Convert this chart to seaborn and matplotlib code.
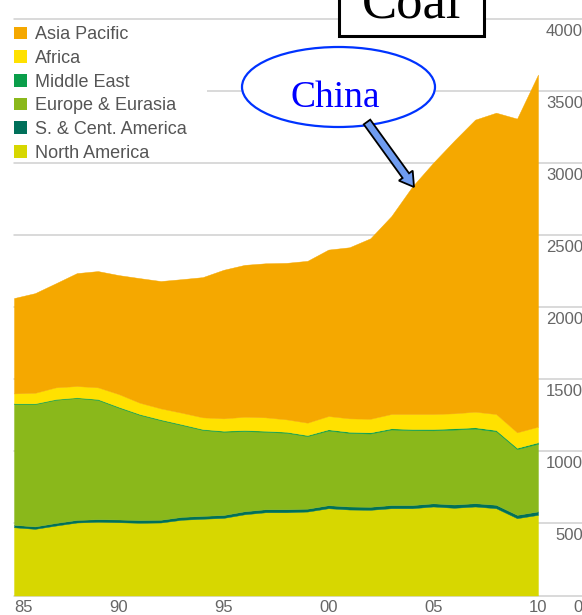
import matplotlib
matplotlib.use("Agg")
import matplotlib.pyplot as plt
import seaborn as sns
from matplotlib.patches import Rectangle, Ellipse, FancyArrow, Patch

# Coal consumption by region, million tonnes oil equivalent
years = list(range(1985, 2011))
north_america = [473, 462, 485, 506, 511, 508, 504, 506, 525, 532, 538, 563, 577,
                 577, 582, 605, 596, 594, 605, 605, 617, 608, 617, 605, 536, 559]
s_cent_america = [17, 17, 18, 18, 18, 19, 19, 19, 20, 20, 20, 21, 21,
                  21, 20, 21, 21, 21, 22, 22, 22, 23, 23, 24, 23, 24]
europe_eurasia = [837, 848, 854, 845, 827, 775, 729, 690, 637, 596, 577, 556, 537,
                  530, 503, 518, 510, 508, 524, 519, 506, 519, 517, 509, 456, 469]
middle_east = [5, 5, 5, 5, 6, 6, 6, 6, 6, 6, 7, 7, 7,
               7, 7, 8, 8, 8, 8, 8, 9, 9, 9, 9, 9, 10]
africa = [69, 73, 81, 78, 81, 88, 78, 76, 79, 81, 86, 92, 93,
          86, 86, 92, 93, 94, 99, 104, 104, 104, 108, 111, 107, 108]
asia_pacific = [661, 691, 722, 783, 806, 825, 864, 883, 926, 972, 1030, 1053, 1068,
                1085, 1122, 1154, 1186, 1251, 1372, 1577, 1742, 1890, 2025, 2089, 2175, 2441]

regions = ["North America", "S. & Cent. America", "Europe & Eurasia",
           "Middle East", "Africa", "Asia Pacific"]
colors = ["#D7D700", "#00705A", "#8AB81B", "#0A9E4A", "#FFE100", "#F5A800"]

x_ticks = [1985, 1990, 1995, 2000, 2005, 2010]
x_labels = ["85", "90", "95", "00", "05", "10"]
y_ticks = [0, 500, 1000, 1500, 2000, 2500, 3000, 3500, 4000]

sns.set_theme(style="white")
plt.rcParams["font.family"] = ["Liberation Sans", "DejaVu Sans"]

W, H = 582, 615
fig = plt.figure(figsize=(W / 100, H / 100), dpi=100)
left_px, right_px, top_px, bottom_px = 14, 538, 18.5, 595.5
ax = fig.add_axes([left_px / W, (H - bottom_px) / H,
                   (right_px - left_px) / W, (bottom_px - top_px) / H])

ax.stackplot(years, north_america, s_cent_america, europe_eurasia,
             middle_east, africa, asia_pacific,
             colors=colors, labels=regions, linewidth=0.3,
             edgecolor="face", zorder=2)

ax.set_xlim(1985, 2010)
ax.set_ylim(0, 4000)
sns.despine(ax=ax, left=True, bottom=True, right=True, top=True)

# Horizontal rules run past the plot to the right, under the value labels
x_end = (W + 1 - left_px) / (right_px - left_px)
for v in y_ticks:
    ax.plot([0, x_end], [v, v], transform=ax.get_yaxis_transform(),
            color="#cfcfcf", lw=1.1, clip_on=False, zorder=0.5)
    ax.annotate(str(v), xy=(x_end, v), xycoords=("axes fraction", "data"),
                xytext=(0, -5), textcoords="offset pixels",
                ha="right", va="top", fontsize=12, color="#666666",
                annotation_clip=False)

ax.set_yticks([])
ax.set_xticks(x_ticks)
ax.set_xticklabels(x_labels, fontsize=12, color="#666666")
ax.get_xticklabels()[0].set_horizontalalignment("left")
ax.tick_params(axis="x", length=0, pad=3)

# Figure-inch coordinates for the legend panel, title box and callout
T = fig.dpi_scale_trans


def pt(px, py):
    return px / 100, (H - py) / 100


# White panel behind the legend hides the rule it sits on
fig.add_artist(Rectangle(pt(13, 158), 194 / 100, 134 / 100, transform=T,
                         facecolor="white", edgecolor="none", zorder=1))

# Legend, top region first
handles = [Patch(facecolor=c, edgecolor="none") for c in colors][::-1]
fig.legend(handles, regions[::-1], loc="upper left",
           bbox_to_anchor=(9 / W, (H - 21) / H),
           frameon=False, borderpad=0.3, borderaxespad=0,
           handlelength=0.7, handleheight=0.7, handletextpad=0.45,
           labelspacing=0.37, fontsize=13, labelcolor="#555555")

fig.add_artist(Rectangle(pt(339, 35.5), 145 / 100, 60 / 100, transform=T,
                         facecolor="white", edgecolor="black", lw=2.2, zorder=6))
fig.text(*pt(412, 17), "Coal", transform=T, ha="center", va="baseline",
         fontsize=38, family=["Liberation Serif", "DejaVu Serif"],
         color="black", zorder=7)

fig.add_artist(Ellipse(pt(338.5, 87), 193 / 100, 80 / 100, transform=T,
                       facecolor="white", edgecolor="#0033FF", lw=1.6, zorder=6))
fig.text(*pt(335, 107), "China", transform=T, ha="center", va="baseline",
         fontsize=27, family=["Liberation Serif", "DejaVu Serif"],
         color="#0000FF", zorder=7)

x0, y0 = pt(367, 122)
x1, y1 = pt(414, 187)
fig.add_artist(FancyArrow(x0, y0, x1 - x0, y1 - y0, width=0.08,
                          head_width=0.17, head_length=0.14,
                          length_includes_head=True, transform=T,
                          facecolor="#6F9CF0", edgecolor="black", lw=1.3,
                          zorder=7))

fig.savefig("out.png", dpi=100)
